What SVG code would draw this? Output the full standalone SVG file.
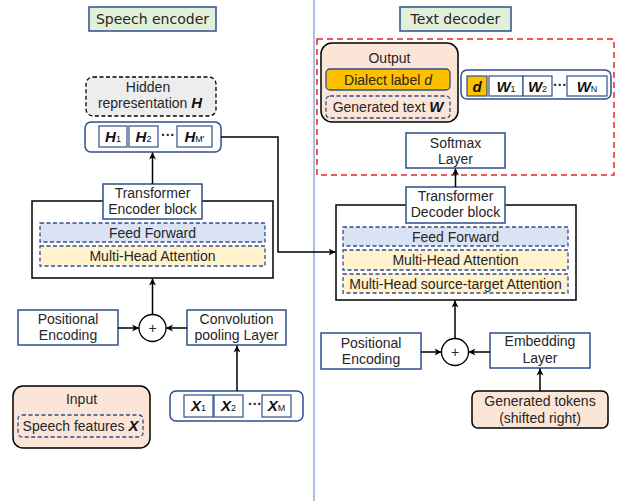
<svg xmlns="http://www.w3.org/2000/svg" width="620" height="501" viewBox="0 0 620 501">
<defs>
<marker id="ah" markerWidth="8" markerHeight="8" refX="7" refY="4" orient="auto" markerUnits="userSpaceOnUse">
<path d="M0,0.5 L7,4 L0,7.5 L2,4 Z" fill="#000"/>
</marker>
</defs>
<style>
text{font-family:"Liberation Sans",Arial,sans-serif;font-size:14px;fill:#262626;text-anchor:middle}
.hdr{font-family:"DejaVu Sans",Verdana,sans-serif;font-size:14px}
.bi{font-weight:bold;font-style:italic;font-size:15px;fill:#111}
.sub{font-size:9px;font-weight:normal;font-style:normal}
.box{fill:#fff;stroke:#2f4f8a;stroke-width:1.5}
.hbox{fill:#e2f0d9;stroke:#2f4f8a;stroke-width:1.5}
.blk{fill:#fff;stroke:#000;stroke-width:1.5}
.ff{fill:#dae3f3;stroke:#2f4f8a;stroke-width:1.3;stroke-dasharray:4 2.5}
.mha{fill:#fff2cc;stroke:#2f4f8a;stroke-width:1.3;stroke-dasharray:4 2.5}
.peach{fill:#fbe5d6;stroke:#000;stroke-width:1.5}
.dash{fill:none;stroke:#2f4f8a;stroke-width:1.3;stroke-dasharray:4 2.5}
.cont{fill:#fff;stroke:#2f4f8a;stroke-width:1.5}
.tok{fill:#fff;stroke:#2f4f8a;stroke-width:1.2}
.ln{fill:none;stroke:#000;stroke-width:1.5}
.arr{fill:none;stroke:#000;stroke-width:1.5;marker-end:url(#ah)}
</style>

<line x1="314" y1="0" x2="314" y2="501" stroke="#8faadc" stroke-width="1.5"/>

<g id="speech-encoder-title">
<rect class="hbox" x="89" y="7" width="127" height="24"/>
<text class="hdr" x="152.5" y="24">Speech encoder</text>
</g>
<g id="text-decoder-title">
<rect class="hbox" x="400" y="7" width="111" height="24"/>
<text class="hdr" x="455.5" y="24">Text decoder</text>
</g>

<g id="hidden-rep">
<rect x="86" y="77" width="130" height="39" rx="7" fill="#ededed" stroke="#000" stroke-width="1.3" stroke-dasharray="4 2.5"/>
<text x="148" y="92">Hidden</text>
<text x="150" y="108">representation <tspan class="bi">H</tspan></text>
</g>

<g id="h-seq">
<rect class="cont" x="85" y="122" width="136" height="30" rx="6"/>
<rect class="tok" x="99" y="126" width="28" height="21"/>
<rect class="tok" x="129" y="126" width="29" height="21"/>
<rect class="tok" x="177" y="126" width="35" height="21"/>
<text x="113" y="142" class="bi">H<tspan class="sub">1</tspan></text>
<text x="143.5" y="142" class="bi">H<tspan class="sub">2</tspan></text>
<text x="168" y="140" style="font-weight:bold">···</text>
<text x="194.5" y="142" class="bi">H<tspan class="sub">M'</tspan></text>
</g>

<g id="encoder">
<rect class="blk" x="32" y="201" width="241" height="77"/>
<rect class="ff" x="40" y="223" width="225" height="19"/>
<text x="152.5" y="237.5">Feed Forward</text>
<rect class="mha" x="40" y="246" width="225" height="20"/>
<text x="152.5" y="261">Multi-Head Attention</text>
<rect class="box" x="103" y="184" width="99" height="35"/>
<text x="152.5" y="198">Transformer</text>
<text x="152.5" y="214">Encoder block</text>
</g>

<g id="enc-pe">
<rect class="box" x="18" y="310" width="100" height="35"/>
<text x="68" y="324">Positional</text>
<text x="68" y="340">Encoding</text>
</g>
<g id="enc-plus">
<circle cx="152.5" cy="328" r="13.5" fill="#fff" stroke="#000" stroke-width="1.3"/>
<text x="152.5" y="333">+</text>
</g>
<g id="conv">
<rect class="box" x="187" y="310" width="99" height="35"/>
<text x="236.5" y="324">Convolution</text>
<text x="236.5" y="340">pooling Layer</text>
</g>

<g id="x-seq">
<rect class="cont" x="170" y="391" width="133" height="30" rx="6"/>
<rect class="tok" x="184" y="395" width="29" height="22"/>
<rect class="tok" x="214" y="395" width="29" height="22"/>
<rect class="tok" x="262" y="395" width="29" height="22"/>
<text x="198.5" y="411" class="bi">X<tspan class="sub">1</tspan></text>
<text x="228.5" y="411" class="bi">X<tspan class="sub">2</tspan></text>
<text x="255" y="409" style="font-weight:bold">···</text>
<text x="276.5" y="411" class="bi">X<tspan class="sub">M</tspan></text>
</g>

<g id="input">
<rect class="peach" x="13" y="386" width="137" height="62" rx="10"/>
<text x="81.5" y="404">Input</text>
<rect class="dash" x="18" y="415" width="125" height="22" rx="4"/>
<text x="80.5" y="430.5">Speech features <tspan class="bi">X</tspan></text>
</g>

<g id="output-area">
<rect x="317" y="39" width="297" height="136" fill="none" stroke="#e8262a" stroke-width="1.5" stroke-dasharray="6 4"/>
</g>

<g id="output">
<rect class="peach" x="321" y="43" width="137" height="79" rx="11"/>
<text x="389.5" y="63">Output</text>
<rect x="326" y="69" width="124" height="21" rx="4" fill="#ffc000" stroke="#2f4f8a" stroke-width="1.3"/>
<text x="388" y="84.5">Dialect label <tspan style="font-style:italic">d</tspan></text>
<rect class="dash" x="326" y="96" width="124" height="22" rx="4"/>
<text x="388" y="112">Generated text <tspan class="bi">W</tspan></text>
</g>

<g id="w-seq">
<rect class="cont" x="461" y="70" width="150" height="29" rx="6"/>
<rect x="467" y="76" width="20" height="20" fill="#ffc000" stroke="#2f4f8a" stroke-width="1.2"/>
<text x="477" y="92" class="bi">d</text>
<rect class="tok" x="489" y="76" width="34" height="20"/>
<rect class="tok" x="523" y="76" width="29" height="20"/>
<rect class="tok" x="567" y="76" width="40" height="20"/>
<text x="506" y="92" class="bi">W<tspan class="sub">1</tspan></text>
<text x="537.5" y="92" class="bi">W<tspan class="sub">2</tspan></text>
<text x="560" y="90" style="font-weight:bold">···</text>
<text x="587" y="92" class="bi">W<tspan class="sub">N</tspan></text>
</g>

<g id="softmax">
<rect class="box" x="406" y="133" width="99" height="35"/>
<text x="455.5" y="148">Softmax</text>
<text x="455.5" y="164">Layer</text>
</g>

<g id="decoder">
<rect class="blk" x="336" y="205" width="240" height="95"/>
<rect class="ff" x="343" y="227" width="225" height="19"/>
<text x="455.5" y="241.5">Feed Forward</text>
<rect class="mha" x="343" y="250" width="225" height="20"/>
<text x="455.5" y="265">Multi-Head Attention</text>
<rect class="mha" x="343" y="274" width="225" height="19"/>
<text x="455.5" y="288.5">Multi-Head source-target Attention</text>
<rect class="box" x="406" y="187" width="99" height="36"/>
<text x="455.5" y="201">Transformer</text>
<text x="455.5" y="217">Decoder block</text>
</g>

<g id="dec-pe">
<rect class="box" x="321" y="333" width="100" height="36"/>
<text x="371" y="348">Positional</text>
<text x="371" y="364">Encoding</text>
</g>
<g id="dec-plus">
<circle cx="455" cy="352" r="13.5" fill="#fff" stroke="#000" stroke-width="1.3"/>
<text x="455" y="357">+</text>
</g>
<g id="embedding">
<rect class="box" x="490" y="333" width="100" height="35"/>
<text x="540" y="346">Embedding</text>
<text x="540" y="363">Layer</text>
</g>
<g id="gen-tokens">
<rect class="peach" x="472" y="391" width="136" height="37" rx="6"/>
<text x="540" y="406">Generated tokens</text>
<text x="540" y="423">(shifted right)</text>
</g>

<g id="connectors">
<line class="arr" x1="118" y1="328" x2="139" y2="328"/>
<line class="arr" x1="187" y1="328" x2="166" y2="328"/>
<line class="arr" x1="237" y1="391" x2="237" y2="345.5"/>
<line class="arr" x1="152.5" y1="314.5" x2="152.5" y2="278.5"/>
<line class="arr" x1="152.5" y1="184" x2="152.5" y2="152.5"/>
<polyline class="arr" points="221,137 278,137 278,252 335.5,252"/>
<line class="arr" x1="421" y1="352" x2="441.5" y2="352"/>
<line class="arr" x1="490" y1="352" x2="468.5" y2="352"/>
<line class="arr" x1="540" y1="391" x2="540" y2="368.5"/>
<line class="arr" x1="455" y1="338.5" x2="455" y2="300.5"/>
<line class="arr" x1="455.5" y1="187" x2="455.5" y2="168.5"/>
</g>
</svg>
